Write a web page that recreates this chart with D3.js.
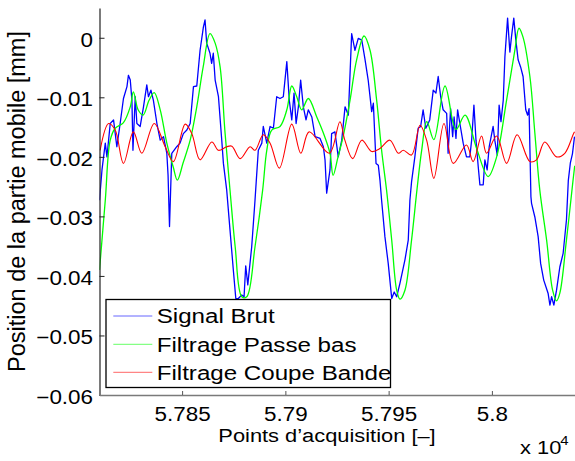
<!DOCTYPE html>
<html>
<head>
<meta charset="utf-8">
<script src="https://cdn.jsdelivr.net/npm/d3@7"></script>
<style>
  html, body { margin: 0; padding: 0; background: #fff; }
  svg { display: block; }
  text { font-family: "Liberation Sans", Arial, Helvetica, sans-serif; fill: #000; }
</style>
</head>
<body>
<svg id="chart" width="575" height="461"></svg>
<script>
// Acquisition points and positions (mm) of the raw signal
const rawPts = [57810.0,57811.2,57812.8,57813.6,57815.2,57816.8,57818.4,57820.0,57821.6,57823.3,57824.0,57824.9,57825.7,57826.2,57827.3,57828.1,57829.7,57831.3,57832.9,57833.7,57834.9,57836.1,57837.8,57839.4,57841.0,57842.6,57843.2,57843.9,57845.0,57847.4,57849.0,57850.6,57852.3,57853.9,57855.5,57857.1,57858.7,57860.3,57861.1,57861.9,57863.5,57864.3,57865.1,57866.0,57867.6,57869.2,57870.0,57871.6,57873.2,57874.8,57876.0,57877.2,57878.9,57880.0,57880.8,57881.8,57883.7,57885.3,57885.9,57886.9,57888.6,57889.3,57891.0,57892.6,57894.2,57895.8,57897.4,57899.0,57900.7,57901.9,57903.1,57904.2,57905.2,57906.3,57907.4,57908.7,57910.0,57911.1,57912.8,57914.4,57916.8,57918.4,57919.2,57920.0,57921.6,57922.4,57924.0,57925.6,57927.3,57928.9,57930.5,57932.1,57933.7,57935.3,57937.0,57938.5,57940.1,57941.8,57942.6,57943.9,57945.0,57945.8,57946.6,57948.2,57949.8,57951.5,57952.7,57953.9,57955.5,57957.9,57959.5,57960.3,57961.1,57962.7,57964.3,57965.5,57966.7,57968.0,57969.9,57971.6,57972.9,57974.0,57975.2,57976.4,57978.1,57978.8,57980.0,57981.0,57981.7,57982.6,57983.4,57984.5,57986.1,57987.7,57989.3,57990.2,57991.3,57992.3,57993.4,57994.2,57995.8,57996.6,57997.7,57998.7,58000.6,58001.4,58002.6,58003.5,58004.4,58005.5,58006.3,58007.6,58008.7,58009.5,58010.6,58011.6,58012.7,58013.9,58015.1,58016.4,58017.3,58018.0,58018.9,58019.2,58020.8,58022.4,58023.6,58025.1,58027.2,58028.1,58028.9,58030.0,58031.3,58032.9,58034.5,58036.1,58037.0,58038.0,58039.0,58040.0];
const rawMm = [-0.0273,-0.0222,-0.0177,-0.0200,-0.0144,-0.0138,-0.0183,-0.0144,-0.0102,-0.0082,-0.0063,-0.0071,-0.0105,-0.0189,-0.0099,-0.0144,-0.0149,-0.0116,-0.0079,-0.0099,-0.0088,-0.0105,-0.0144,-0.0172,-0.0166,-0.0194,-0.0231,-0.0317,-0.0194,-0.0183,-0.0177,-0.0161,-0.0155,-0.0144,-0.0082,-0.0081,-0.0021,0.0018,0.0030,-0.0009,-0.0026,-0.0043,-0.0026,-0.0071,-0.0099,-0.0172,-0.0211,-0.0256,-0.0323,-0.0390,-0.0438,-0.0438,-0.0432,-0.0435,-0.0383,-0.0415,-0.0351,-0.0273,-0.0241,-0.0189,-0.0177,-0.0149,-0.0177,-0.0149,-0.0152,-0.0099,-0.0102,-0.0099,-0.0040,-0.0105,-0.0138,-0.0093,-0.0144,-0.0116,-0.0071,-0.0116,-0.0138,-0.0121,-0.0133,-0.0166,-0.0169,-0.0183,-0.0205,-0.0261,-0.0222,-0.0161,-0.0158,-0.0200,-0.0172,-0.0116,-0.0130,0.0007,-0.0021,-0.0001,-0.0004,-0.0035,-0.0071,-0.0124,-0.0110,-0.0211,-0.0214,-0.0239,-0.0273,-0.0334,-0.0379,-0.0438,-0.0427,-0.0435,-0.0412,-0.0373,-0.0340,-0.0273,-0.0242,-0.0200,-0.0152,-0.0149,-0.0121,-0.0152,-0.0138,-0.0088,-0.0093,-0.0065,-0.0099,-0.0121,-0.0127,-0.0194,-0.0119,-0.0166,-0.0133,-0.0169,-0.0121,-0.0144,-0.0177,-0.0200,-0.0200,-0.0172,-0.0113,-0.0172,-0.0217,-0.0247,-0.0247,-0.0205,-0.0222,-0.0183,-0.0149,-0.0172,-0.0197,-0.0113,-0.0141,-0.0105,-0.0032,0.0033,-0.0024,0.0002,0.0033,-0.0004,-0.0037,-0.0049,-0.0065,-0.0121,-0.0130,-0.0119,-0.0267,-0.0278,-0.0301,-0.0334,-0.0379,-0.0407,-0.0429,-0.0449,-0.0435,-0.0449,-0.0424,-0.0385,-0.0362,-0.0306,-0.0240,-0.0210,-0.0195,-0.0166];

// Low-pass filtered position
const lowPts = [57810.0,57812.8,57815.2,57817.6,57821.5,57824.9,57826.4,57828.7,57831.1,57834.0,57836.5,57839.4,57842.6,57845.7,57847.7,57850.5,57853.9,57857.1,57860.2,57863.5,57866.0,57868.4,57870.8,57873.2,57875.7,57878.9,57881.3,57885.3,57889.0,57891.0,57893.4,57897.4,57900.7,57903.1,57905.5,57907.9,57911.1,57915.2,57918.4,57921.6,57923.1,57925.5,57927.9,57931.3,57934.5,57938.1,57941.0,57944.2,57946.6,57949.0,57951.5,57953.9,57955.5,57957.9,57961.1,57963.7,57966.0,57968.5,57971.9,57977.3,57982.6,57987.0,57992.6,57998.2,58002.3,58007.1,58011.1,58013.1,58015.0,58018.4,58020.8,58023.2,58026.5,58029.4,58031.3,58032.9,58036.1,58039.3,58040.1];
const lowMm = [-0.0390,-0.0273,-0.0172,-0.0152,-0.0143,-0.0116,-0.0091,-0.0121,-0.0130,-0.0105,-0.0092,-0.0121,-0.0177,-0.0217,-0.0239,-0.0210,-0.0172,-0.0116,-0.0049,0.0007,-0.0009,-0.0049,-0.0160,-0.0256,-0.0351,-0.0435,-0.0435,-0.0351,-0.0256,-0.0189,-0.0155,-0.0149,-0.0121,-0.0081,-0.0099,-0.0121,-0.0102,-0.0133,-0.0160,-0.0194,-0.0231,-0.0200,-0.0167,-0.0105,-0.0037,0.0003,-0.0021,-0.0105,-0.0189,-0.0256,-0.0340,-0.0424,-0.0439,-0.0424,-0.0340,-0.0256,-0.0189,-0.0141,-0.0171,-0.0081,-0.0154,-0.0130,-0.0186,-0.0233,-0.0200,-0.0105,-0.0021,0.0016,0.0002,-0.0065,-0.0160,-0.0256,-0.0340,-0.0424,-0.0442,-0.0429,-0.0340,-0.0239,-0.0215];

// Band-stop filtered position
const stopPts = [57810.3,57814.4,57817.6,57821.6,57826.4,57830.5,57836.5,57841.8,57845.8,57851.5,57854.7,57858.7,57864.4,57867.6,57871.6,57874.1,57878.1,57882.9,57885.3,57889.3,57892.6,57897.1,57903.1,57907.5,57911.5,57921.3,57926.4,57928.8,57932.6,57937.0,57941.8,57945.8,57950.6,57954.7,57957.1,57961.1,57965.2,57968.4,57971.9,57976.8,57981.3,57987.7,57990.9,57995.0,57997.4,58002.3,58007.1,58012.2,58018.4,58021.6,58025.6,58031.3,58035.3,58039.3,58040.0];
const stopMm = [-0.0189,-0.0144,-0.0155,-0.0211,-0.0158,-0.0194,-0.0144,-0.0183,-0.0208,-0.0145,-0.0161,-0.0205,-0.0175,-0.0189,-0.0183,-0.0182,-0.0203,-0.0183,-0.0189,-0.0163,-0.0177,-0.0219,-0.0145,-0.0194,-0.0158,-0.0194,-0.0141,-0.0172,-0.0203,-0.0172,-0.0191,-0.0186,-0.0172,-0.0194,-0.0189,-0.0197,-0.0147,-0.0172,-0.0236,-0.0144,-0.0211,-0.0180,-0.0208,-0.0165,-0.0194,-0.0165,-0.0211,-0.0163,-0.0208,-0.0205,-0.0175,-0.0200,-0.0194,-0.0163,-0.0158];

const xTicks = [57850, 57900, 57950, 58000];
const yTicks = [0, -0.01, -0.02, -0.03, -0.04, -0.05, -0.06];
const seriesNames = ["Signal Brut", "Filtrage Passe bas", "Filtrage Coupe Bande"];
const seriesColors = ["#0000ff", "#00ff00", "#ff0000"];

const svg = d3.select("#chart");
const plotLeft = 99.5, plotRight = 574.5, plotTop = 8, plotBottom = 395;
const SX = 1.15; // horizontal stretch of the lettering

const x = d3.scaleLinear().domain([57810, 58040]).range([plotLeft, plotRight]);
const y = d3.scaleLinear().domain([-0.06, 0.005]).range([plotBottom, plotTop]);

svg.append("defs").append("clipPath").attr("id", "plot")
  .append("rect").attr("x", plotLeft).attr("y", plotTop)
  .attr("width", plotRight - plotLeft + 1).attr("height", plotBottom - plotTop);

const plot = svg.append("g").attr("clip-path", "url(#plot)");

const zip = (xs, ys) => xs.map((v, i) => [v, ys[i]]);
const lineLin = d3.line().x(d => x(d[0])).y(d => y(d[1]));
const lineSmooth = d3.line().x(d => x(d[0])).y(d => y(d[1])).curve(d3.curveCatmullRom.alpha(0.5));

plot.append("path").datum(zip(rawPts, rawMm))
  .attr("d", lineLin).attr("fill", "none")
  .attr("stroke", seriesColors[0]).attr("stroke-width", 1.3).attr("stroke-linejoin", "round");
plot.append("path").datum(zip(lowPts, lowMm))
  .attr("d", lineSmooth).attr("fill", "none")
  .attr("stroke", seriesColors[1]).attr("stroke-width", 1.3);
plot.append("path").datum(zip(stopPts, stopMm))
  .attr("d", lineSmooth).attr("fill", "none")
  .attr("stroke", seriesColors[2]).attr("stroke-width", 1.1);

// Y axis: ticks pointing inward
const yAxis = d3.axisLeft(y).tickValues(yTicks)
  .tickFormat(d => d === 0 ? "0" : d3.format(".2f")(d))
  .tickSizeInner(-5).tickSizeOuter(0).tickPadding(7);
const gy = svg.append("g").attr("transform", `translate(${plotLeft},0)`).call(yAxis);
gy.select(".domain").attr("stroke", "#222").attr("stroke-width", 1.2);
gy.selectAll(".tick line").attr("stroke", "#222");
gy.selectAll(".tick text")
  .attr("font-size", 19.5).attr("font-family", null)
  .attr("dy", null).attr("y", 8.3)
  .attr("x", -6.5 / SX).attr("transform", `scale(${SX},1)`);

// X axis: ticks pointing inward
const xAxis = d3.axisBottom(x).tickValues(xTicks)
  .tickFormat(d => String(+(d / 1e4).toFixed(3)))
  .tickSizeInner(-4).tickSizeOuter(0).tickPadding(0);
const gx = svg.append("g").attr("transform", `translate(0,${plotBottom})`).call(xAxis);
gx.select(".domain").attr("stroke", "#7a7a7a").attr("stroke-width", 1.6);
gx.selectAll(".tick line").attr("stroke", "#555");
gx.selectAll(".tick text")
  .attr("font-size", 19.5).attr("font-family", null)
  .attr("dy", null).attr("y", 25.7)
  .attr("transform", `scale(${SX},1)`);

// Exponent note for the x axis
const expo = svg.append("g").attr("transform", `translate(520,454) scale(${SX},1)`);
expo.append("text").attr("font-size", 19).text("x 10");
expo.append("text").attr("x", 35).attr("y", -9).attr("font-size", 13).text("4");

// Axis titles
svg.append("text")
  .attr("transform", `translate(327,441.7) scale(${SX},1)`)
  .attr("text-anchor", "middle").attr("font-size", 19)
  .text("Points d\u2019acquisition [\u2013]");
svg.append("text")
  .attr("transform", "translate(25,201.5) rotate(-90)")
  .attr("text-anchor", "middle").attr("font-size", 23.5)
  .text("Position de la partie mobile [mm]");

// Legend
const lg = svg.append("g");
lg.append("rect").attr("x", 106).attr("y", 299.5).attr("width", 284.5).attr("height", 88)
  .attr("fill", "#fff").attr("stroke", "#000").attr("stroke-width", 1.3);
const rowY = [316, 344.3, 372.3];
seriesNames.forEach((name, i) => {
  lg.append("line").attr("x1", 113.3).attr("x2", 152.3)
    .attr("y1", rowY[i]).attr("y2", rowY[i])
    .attr("stroke", seriesColors[i]).attr("stroke-width", 1).attr("stroke-opacity", 0.6);
  lg.append("text")
    .attr("transform", `translate(156.7,${rowY[i] + 7.3}) scale(${SX},1)`)
    .attr("font-size", 21).text(name);
});
</script>
</body>
</html>
